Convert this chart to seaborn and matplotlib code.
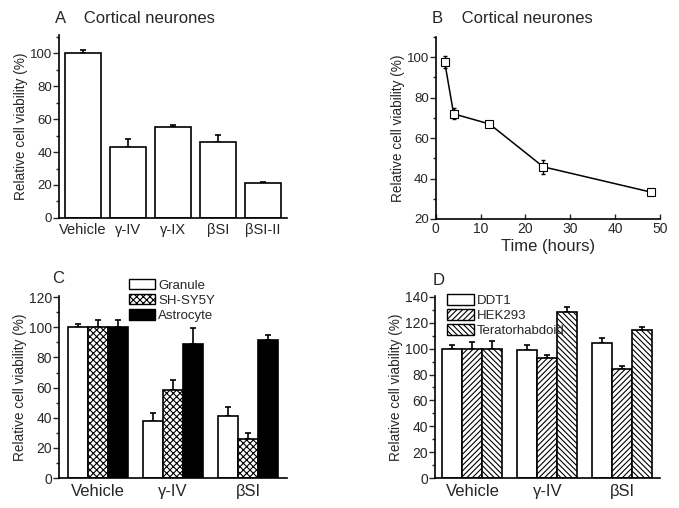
import numpy as np
import pandas as pd
import matplotlib
matplotlib.use("Agg")
import matplotlib.pyplot as plt
import seaborn as sns
from matplotlib.patches import Patch
from matplotlib.ticker import MultipleLocator

# Panel A: cortical neurones, inhibitors
a_labels = ['Vehicle', 'γ-IV', 'γ-IX', 'βSI', 'βSI-II']
a_values = [100, 43, 55, 46, 21]
a_errors = [2, 5, 1.5, 4.4, 1]

# Panel B: time course
b_time = [2, 4, 12, 24, 48]
b_values = [97.7, 72, 67, 45.8, 33.3]
b_errors = [3, 2.7, 0.6, 3.4, 1.4]

# Panel C: cell types
c_groups = ['Vehicle', 'γ-IV', 'βSI']
c_cells = ['Granule', 'SH-SY5Y', 'Astrocyte']
c_granule = [100, 38, 41]
c_granule_err = [2, 5, 6]
c_shsy5y = [100, 58.4, 26]
c_shsy5y_err = [5, 6.6, 4]
c_astro = [100, 88.8, 91.6]
c_astro_err = [5, 10.5, 3.4]

# Panel D: other cell lines
d_groups = ['Vehicle', 'γ-IV', 'βSI']
d_cells = ['DDT1', 'HEK293', 'Teratorhabdoid']
d_ddt1 = [100, 99, 104.6]
d_ddt1_err = [3, 4, 3.5]
d_hek = [100, 93, 84]
d_hek_err = [5, 2.5, 2.5]
d_terato = [100, 128, 114.6]
d_terato_err = [6, 4, 2.5]

sns.set_style("ticks")
plt.rcParams['font.family'] = ['Liberation Sans', 'DejaVu Sans']
plt.rcParams['hatch.linewidth'] = 0.8


def style_axis(ax, major, minor, tick_size=9.5):
    sns.despine(ax=ax)
    for s in ['left', 'bottom']:
        ax.spines[s].set_linewidth(1.2)
        ax.spines[s].set_color('black')
    ax.yaxis.set_major_locator(MultipleLocator(major))
    ax.yaxis.set_minor_locator(MultipleLocator(minor))
    ax.tick_params(axis='y', which='major', length=4, width=1, direction='out', labelsize=tick_size, pad=1)
    ax.tick_params(axis='y', which='minor', length=2.5, width=1, direction='out')
    ax.set_xlabel('')
    ax.set_ylabel('Relative cell viability (%)', fontsize=9.8, labelpad=1)


def add_errs(ax, errs):
    for cont, err in zip(ax.containers, errs):
        for bar, e in zip(cont, err):
            xc = bar.get_x() + bar.get_width() / 2
            h = bar.get_height()
            ax.errorbar(xc, h, yerr=[[0], [e]], fmt='none', ecolor='black',
                        elinewidth=1.2, capsize=2, capthick=1.2, zorder=1)


fig = plt.figure(figsize=(6.79, 5.08), dpi=100)

# ---- A ----
axA = fig.add_axes([0.0869, 0.571, 0.3358, 0.36])
dfA = pd.DataFrame({'treat': a_labels, 'val': a_values})
sns.barplot(data=dfA, x='treat', y='val', color='white', edgecolor='black',
            linewidth=1.2, width=0.8, ax=axA, errorbar=None, zorder=2)
add_errs(axA, [a_errors])
axA.set_ylim(0, 111)
axA.set_xlim(-0.53, 4.53)
style_axis(axA, 20, 10)
axA.tick_params(axis='x', length=0, labelsize=10.5, pad=4)
fig.text(0.081, 0.963, 'A    Cortical neurones', fontsize=12, va='center')

# ---- B ----
axB = fig.add_axes([0.6417, 0.569, 0.330, 0.358])
dfB = pd.DataFrame({'time': b_time, 'val': b_values})
axB.errorbar(b_time, b_values, yerr=b_errors, fmt='none', ecolor='black',
             elinewidth=1, capsize=1.5, capthick=1, zorder=1)
sns.lineplot(data=dfB, x='time', y='val', marker='s', color='black', linewidth=1.1,
             markersize=6, markerfacecolor='white', markeredgecolor='black',
             markeredgewidth=0.8, ax=axB, zorder=3)
axB.set_xlim(0, 50)
axB.set_ylim(20, 110)
style_axis(axB, 20, 10)
axB.xaxis.set_major_locator(MultipleLocator(10))
axB.tick_params(axis='x', which='major', length=3.5, width=1, direction='in', labelsize=10, pad=2)
axB.set_xlabel('Time (hours)', fontsize=12, labelpad=2)
fig.text(0.636, 0.963, 'B    Cortical neurones', fontsize=12, va='center')

# ---- C ----
axC = fig.add_axes([0.0869, 0.059, 0.3358, 0.359])
dfC = pd.DataFrame({
    'group': c_groups * 3,
    'cell': np.repeat(c_cells, 3),
    'val': c_granule + c_shsy5y + c_astro,
})
sns.barplot(data=dfC, x='group', y='val', hue='cell', hue_order=c_cells,
            palette=['white', 'white', 'black'], edgecolor='black', linewidth=1.2,
            width=0.8, ax=axC, errorbar=None, legend=False, zorder=2)
for bar in axC.containers[1]:
    bar.set_hatch('xxxxx')
add_errs(axC, [c_granule_err, c_shsy5y_err, c_astro_err])
axC.set_ylim(0, 121)
axC.set_xlim(-0.52, 2.52)
style_axis(axC, 20, 10, tick_size=10)
axC.tick_params(axis='x', length=0, labelsize=12, pad=4)
handlesC = [Patch(facecolor='white', edgecolor='black', label=c_cells[0]),
            Patch(facecolor='white', edgecolor='black', hatch='xxxxx', label=c_cells[1]),
            Patch(facecolor='black', edgecolor='black', label=c_cells[2])]
fig.legend(handles=handlesC, loc='upper left', bbox_to_anchor=(0.19, 0.451),
           frameon=False, fontsize=9.5, handlelength=2.0, handleheight=0.8,
           labelspacing=0.2, handletextpad=0.2, borderpad=0, borderaxespad=0)
fig.text(0.077, 0.452, 'C', fontsize=12, va='center')

# ---- D ----
axD = fig.add_axes([0.6406, 0.059, 0.3314, 0.359])
dfD = pd.DataFrame({
    'group': d_groups * 3,
    'cell': np.repeat(d_cells, 3),
    'val': d_ddt1 + d_hek + d_terato,
})
sns.barplot(data=dfD, x='group', y='val', hue='cell', hue_order=d_cells,
            palette=['white', 'white', 'white'], edgecolor='black', linewidth=1.2,
            width=0.8, ax=axD, errorbar=None, legend=False, zorder=2)
for bar in axD.containers[1]:
    bar.set_hatch('//////')
for bar in axD.containers[2]:
    bar.set_hatch('\\\\\\\\\\\\')
add_errs(axD, [d_ddt1_err, d_hek_err, d_terato_err])
axD.set_ylim(0, 141)
axD.set_xlim(-0.5, 2.5)
style_axis(axD, 20, 10, tick_size=10)
axD.tick_params(axis='x', length=0, labelsize=12, pad=4)
handlesD = [Patch(facecolor='white', edgecolor='black', label=d_cells[0]),
            Patch(facecolor='white', edgecolor='black', hatch='//////', label=d_cells[1]),
            Patch(facecolor='white', edgecolor='black', hatch='\\\\\\\\\\\\', label=d_cells[2])]
fig.legend(handles=handlesD, loc='upper left', bbox_to_anchor=(0.658, 0.422),
           frameon=False, fontsize=9.5, handlelength=2.1, handleheight=0.9,
           labelspacing=0.15, handletextpad=0.2, borderpad=0, borderaxespad=0)
fig.text(0.637, 0.448, 'D', fontsize=12, va='center')

fig.savefig('out.png', dpi=100)
